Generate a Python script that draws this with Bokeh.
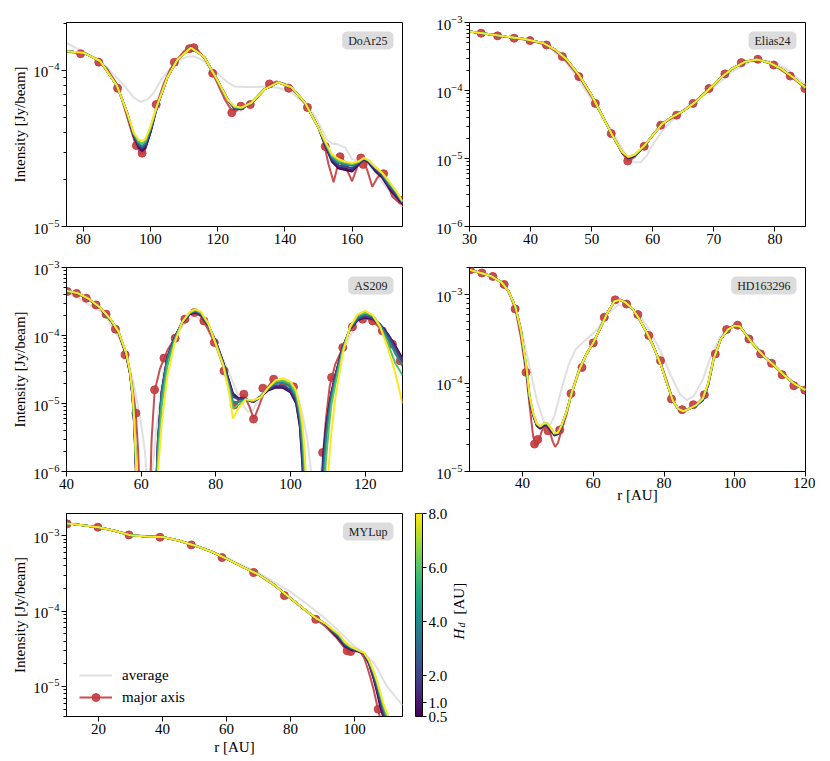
import numpy as np
from bokeh.plotting import figure
from bokeh.models import (Range1d, FixedTicker, LogTickFormatter, PrintfTickFormatter,
                          Label, Legend, LegendItem, LinearColorMapper)
from bokeh.layouts import column, row
from bokeh.palettes import Viridis256
from bokeh.embed import file_html
from bokeh.resources import INLINE
from bokeh.core.properties import value

# ---------------- data (intensities in micro-Jy/beam) ----------------
UJY = 1e-6
H_VALUES = [0.5, 1.0, 2.0, 4.0, 6.0, 8.0]
H_TICKS = [0.5, 1.0, 2.0, 4.0, 6.0, 8.0]

# DoAr25
DOAR25_AVG_R = [75,80,85,90,93,95,97,99,101,103,105,107,109,111,113,115,117,119,121,123,125,128,131,134,138,142,146,149,151,152.5,154,156,158,160,162,163.5,165,167,170,173,175]
DOAR25_AVG_I = [150,132,116,90,76,67,63,65,72,86,98,108,117,123,123,118,110,100,91,84,79,78.5,78.5,79,77.5,72,61,51,42,36,34,33.5,32,27,26.5,27,25,22,18,15,13.3]
DOAR25_LINE_R = [75,78,81,84,87,90,92,94,95.5,97,98,99,100.5,102,104,106,108,110,112,114,116,118,120,122,124,125.5,127,129,131,133,135,137.5,140,142,144,146,148,150,151.5,153,154.5,156,157,158.5,160,161.5,163,164.5,166,167.5,169,170.5,172,173.5,175]
DOAR25_LINE_I = [132,130,128,117,103,82,60,43,34,29.5,29.5,34,44,62,83,103,118,133,142,136,120,101,82,66,56,55,58,60,64,72,80,85,82,76,69,61,52,43,35,25,19.2,26,28,23,19.5,24,27.5,23,18,20.5,22,19,15.5,14.5,14.2]
DOAR25_PTS_R = [79.2,84.6,90.2,95.8,97.5,101.7,107.1,111.6,112.9,118.5,124.2,126.9,129.7,135.4,141.1,146.7,152.0,156.4,157.8,162.6,163.3,169.4,174.8]
DOAR25_PTS_I = [128,113,77,33,29.5,60.5,113,138,140,96,53.6,59,60.5,82,77,58,32.6,28,24.6,27.5,25,21.8,14.7]
DOAR25_MOD_R = [75,80,85,90,93,95,96.5,97.5,98.5,100,102,105,108,112,116,120,123,125,127,130,134,138,142,146,150,152,154,156,158,160,162,163.5,165,167,169,171,173,175]
DOAR25_MOD_H05 = [133,130,115,80,54,38,32,30.5,32,40,59,90,117,140,122,86,65,57,57,62,76,84,78,62,43,33,26,23.5,23,22.5,25,27,25.5,22.5,20.5,17.5,15.5,14]
DOAR25_MOD_H1 = [133,130,115,80,54,38.3,32.5,31,32.5,40.5,59,90,117,140,122,86,65,57,57,62,76,84,78,62,43,33.3,26.5,24,23.5,23,25.2,27.1,25.7,23,20.8,17.8,15.8,14.1]
DOAR25_MOD_H2 = [133,130,115,80,54,38.6,33.2,31.8,33.2,41,59.3,90,117,140,122,86,65,57.3,57,62,76,84,78,62,43,33.6,27,24.6,24.2,23.6,25.5,27.2,26,23.3,21.2,18.2,16.2,14.2]
DOAR25_MOD_H4 = [133,130,115,80,54,39,34,32.8,34.2,42,59.5,90,117,140,122,86,65,57.8,57.3,62,76,84,78,62,43,34,27.8,25.5,25,24.5,25.8,27.3,26.2,23.6,21.6,18.7,16.6,14.3]
DOAR25_MOD_H6 = [133,130,115,80,54,39.5,35,34,35.2,43,59.8,90,117,140,122,86,65,58.3,57.5,62,76,84,78,62,43,34.5,28.4,26.2,25.6,25.1,26,27.4,26.4,23.9,21.9,19.1,16.9,14.4]
DOAR25_MOD_H8 = [133,130,115,80,54,40,36,35.5,36.5,44,60,90,117,140,122,86,65,59,57.8,62,76,84,78,62,43,35,29,27,26,25.5,26.2,27.5,26.5,24,22,19.5,17,14.5]

# Elias24
ELIAS24_AVG_R = [30,35,40,43,46,49,52,54,55.5,57,58,59,60,61.5,63,65,67,70,73,76,78,80,82,85]
ELIAS24_AVG_I = [730,640,545,440,250,100,40,20,11.5,8.7,8.8,11,16,25,35,50,68,112,190,265,283,258,205,122]
ELIAS24_LINE_R = [30,32,34.6,37.3,40,42.6,45.2,47.9,50.6,53.2,55,56,57,58.6,61.3,63.9,66.6,69.2,71.8,74.5,77.2,79.8,82.5,85]
ELIAS24_LINE_I = [735,695,636,590,545,470,318,162,66,24,12,9.2,10.5,15.2,31,43.5,64,106,174,255,287,238,163,108]
ELIAS24_PTS_R = [31.9,34.6,37.3,39.9,42.6,45.2,47.9,50.6,53.2,55.9,58.6,61.3,63.9,66.6,69.2,71.8,74.5,77.2,79.8,82.5,84.9]
ELIAS24_PTS_I = [697,636,587,542,468,315,160,64.6,23.3,9.2,15.1,30.9,43.4,64.6,107,175,257,288,237,163,107]
ELIAS24_MOD_R = [30,33,36,39,42,44,46,48,50,52,53.5,55,56,57,58.5,60,61.5,63,65,67,69,71,73,75,77,79,81,83,85]
ELIAS24_MOD_H05 = [736,680,620,570,500,400,280,165,85,38,21,12.1,10.1,10.9,14.7,22,32,40,50,68,100,150,210,262,285,258,210,155,110]
ELIAS24_MOD_H1 = [736,680,620,570,500,400,280,165,85,38,21,12.2,10.2,11.0,14.8,22,32,40,50,68,100,150,210,262,285,258,210,155,110]
ELIAS24_MOD_H2 = [736,680,620,570,500,400,280,165,85,38,21,12.3,10.3,11.1,14.8,22,32,40,50,68,100,150,210,262,285,258,210,155,110]
ELIAS24_MOD_H4 = [736,680,620,570,500,400,280,165,85,38,21,12.4,10.4,11.2,14.9,22,32,40,50,68,100,150,210,262,285,258,210,155,110]
ELIAS24_MOD_H6 = [736,680,620,570,500,400,280,165,85,38,21,12.5,10.5,11.3,15.0,22,32,40,50,68,100,150,210,262,285,258,210,155,110]
ELIAS24_MOD_H8 = [736,680,620,570,500,400,280,165,85,38,21,12.5,10.6,11.4,15.0,22,32,40,50,68,100,150,210,262,285,258,210,155,110]

# AS209
AS209_AVG_R = [40,50,55,58,60,61,61.8,62.3,63,64,66,70,74,78,82,85,87,88.5,90,92,96,100,103,104.5,105.5,106.5,107.5,108.5,110,114,118,120,124,128,130]
AS209_AVG_I = [450,210,75,20,5,2,0.5,0.3,1.0,4,30,120,200,140,45,18,10,7.5,8,13,19,18,8,3,1,0.3,0.5,1.5,8,60,160,185,140,70,45]
AS209_LINE_R = [40,43,46,49,52,54,56,57.5,58.5,59.2,59.6,60,62,62.4,62.8,63.6,65,67,69,71,73,74.5,76,78,80,82,83.5,84.7,86,87.5,89,90.2,91.5,93,95,97,99,101,102.3,103.2,103.6,104,108,108.3,108.8,109.5,110.5,112,114,116,118,120,122,124,126,128,130]
AS209_LINE_I = [450,410,340,250,160,105,50,20,8,2.0,0.5,0.01,0.01,0.5,3,15,32,60,92,150,205,218,190,120,72,35,16,9,11,13.5,9,5.9,9,15,21,21.5,20,17.5,10,3,1,0.01,0.01,0.5,2.0,6,18,38,66,125,168,180,165,128,90,60,38]
AS209_PTS_R = [40.2,42.7,45.3,47.9,50.6,53.1,55.7,58.6,63.6,66.1,69.1,71.7,74.3,76.8,79.6,82.2,84.9,87.5,90.1,92.6,95.5,98.1,100.8,108.6,111.0,114.0,116.6,119.3,122.0,124.6,127.3,129.4]
AS209_PTS_I = [444,415,354,282,206,124,52,7.2,15.9,46.5,91,174,218,164,79,30.2,9.5,13.7,5.9,16.8,22.8,19.2,17.6,1.9,24.1,66.6,134,174,164,117,74.6,42.4]
AS209_MOD_R = [40,43,46,49,52,54,56,57,57.7,58.2,58.6,59,63.5,64,64.5,65.5,67,69,71,73,74.5,76,78,80,82,83.5,84.6,86,88,90,92,94,96,98,100,101.5,102.5,103.2,103.8,104.5,108,108.8,109.5,110.3,111,112,114,116,118,120,122,124,126,128,130]
AS209_MOD_H05 = [455,415,340,255,165,110,52,28,12,4,1.0,0.01,0.05,0.6,3,15,48,95,155,205,218,200,140,82,40,22,14,12,11.7,10.5,12.5,15.5,17.2,17,14.5,10,4.5,1.2,0.2,0.01,0.2,1.8,4.5,9,15,26,68,125,168,184,175,145,107,72,46]
AS209_MOD_H1 = [455,416,341,256,166,110,52.5,28.5,12.3,4.2,1.05,0.02,0.03,0.55,2.9,14.8,47.5,94,156,207,221,202,140,81,40,21.5,13.5,11.8,11.6,10.5,12.6,15.8,17.6,17.5,15,10.5,5,1.4,0.25,0.01,0.15,1.6,4.2,8.8,14.8,25.8,67.5,126,170,187,177,145,106,70,44]
AS209_MOD_H2 = [455,417,342,256,166,111,53,29,12.8,4.4,1.1,0.05,0.02,0.5,2.8,14.5,47,93,157,210,225,205,141,80,39,20.5,12.5,11.5,11.5,10.6,12.8,16.2,18.5,18.3,16,11.3,5.6,1.7,0.35,0.01,0.1,1.3,3.8,8.3,14.3,25.3,66,127,174,193,181,145,102,66,41]
AS209_MOD_H4 = [455,418,343,257,167,111,54,29.5,13.2,4.6,1.25,0.1,0.01,0.4,2.4,13.5,45,91,158,213,232,212,144,78,37.5,18.5,10.5,10.5,11.5,10.8,12.9,16.6,20,20.3,17.5,12.5,6.5,2.5,0.7,0.05,0.05,0.7,2.8,6.8,12.5,22,63,130,185,206,190,142,92,55,36]
AS209_MOD_H6 = [455,419,344,257,167,112,54.5,29.8,13.6,4.8,1.35,0.2,0.01,0.25,1.7,9,35,85,158,217,238,218,147,76,36.5,17,8.5,9.5,11.5,11,12.5,17,21,21.8,19.5,13.8,7.8,3.6,1.2,0.15,0.02,0.3,1.5,4.5,10,19,61,135,198,220,198,135,78,40,26]
AS209_MOD_H8 = [455,420,345,258,168,112,55,30,14,5,1.5,0.3,0.01,0.1,1.0,5,25,78,158,220,244,225,150,74,36,15,6,8.5,11.5,11.2,12.2,17,22,23.3,21,15.5,9,5,2,0.3,0.01,0.05,0.3,1.3,4,12,55,135,205,231,200,135,67,29,10]

# HD163296
HD_AVG_R = [25,30,35,38,40,42,44,46,47.5,49,51,53,55,58,61,64,67,70,73,76,79,82,84.5,86.5,88.5,91,93,96,99,101,104,108,112,116,120]
HD_AVG_I = [1900,1680,1280,700,360,150,65,37,32,42,85,160,240,310,400,600,760,730,590,390,230,120,75,64,72,110,190,340,430,445,330,215,150,108,85]
HD_LINE_R = [25,28,31,34,36,38,39.5,41,42,43,43.7,44.5,45.5,46.5,47.5,48.5,49.2,50,51,52.5,54,56,58,60,62,64,66,67.5,69,71,73,75,77,79,81,82.5,84,85.5,87,89,91,92.5,94,96,98,100,101.5,103,105,108,111,114,117,120]
HD_LINE_I = [1920,1780,1630,1380,1100,680,330,132,55,25,19.5,22,29,33,30,22,19,21,29,45,80,140,210,285,420,620,840,880,820,700,530,380,260,170,100,65,50,48,51,57,68,100,190,310,410,450,440,360,280,205,160,122,97,82]
HD_PTS_R = [25.2,28.5,31.6,34.8,37.9,41.0,43.4,44.3,47.2,50.5,53.7,56.8,60.0,63.1,66.2,69.4,72.6,75.7,79.0,82.1,85.1,88.3,91.4,94.5,97.7,100.8,104.0,107.3,110.4,113.4,116.7,119.8]
HD_PTS_I = [1900,1750,1600,1300,688,132,20.4,23,28.8,29.5,76,150,284,553,870,780,594,344,179,66,50,56.9,73.8,213,402,450,315,213,167,124,93.3,83]
HD_MOD_R = [25,28,31,34,36,38,39.5,41,42,43,44,45,46,47,48,49,50,51,52.5,54,56,58,60,62,64,66,67.5,69,71,73,75,77,79,81,82.5,84,85.5,87,89,91,92.5,94,96,98,100,101.5,103,105,108,111,114,117,120]
HD_MOD_H05 = [1900,1760,1620,1380,1100,720,400,150,66,43,33,30.5,33,33,29,25.5,26.5,32,48,80,140,210,285,420,620,840,870,820,700,530,380,260,165,95,63,51,48,51,55,64,95,185,310,400,445,435,360,280,205,160,122,97,83]
HD_MOD_H1 = [1900,1760,1620,1380,1100,720,400,152,67,43.5,33.5,31,33.5,33.5,29.5,26,26.8,32.2,48,80,140,210,285,420,620,840,870,820,700,530,380,260,165,95,63,51,48,51,55.3,64.5,96,185,310,400,445,435,360,280,205,160,122,97,83]
HD_MOD_H2 = [1900,1760,1620,1380,1100,720,400,155,68,44,34,31.5,34,34,30,26.3,27,32.5,48,80,140,210,285,420,620,840,870,820,700,530,380,260,165,95,63,51,48,51,55.5,65,97,185,310,400,445,435,360,280,205,160,122,97,83]
HD_MOD_H4 = [1900,1760,1620,1380,1100,720,400,158,70,45,34.5,32,34.5,34.5,30.5,26.7,27.2,32.8,48,80,140,210,285,420,620,840,870,820,700,530,380,260,165,95,63,51,48,51,55.8,66,98,185,310,400,445,435,360,280,205,160,122,97,83]
HD_MOD_H6 = [1900,1760,1620,1380,1100,720,400,162,71,45.5,35,32.3,35,35,31,27,27.5,33,48,80,140,210,285,420,620,840,870,820,700,530,380,260,165,95,63,51,48,51,56,66.5,99,185,310,400,445,435,360,280,205,160,122,97,83]
HD_MOD_H8 = [1900,1760,1620,1380,1100,720,400,165,72,46,35,32.5,35,35,31,27,27.5,33,48,80,140,210,285,420,620,840,870,820,700,530,380,260,165,95,63,51,48,51,56,67,100,185,310,400,445,435,360,280,205,160,122,97,83]

# MYLup
MY_AVG_R = [10,20,30,40,50,60,70,75,80,85,90,95,100,103,106,110,115]
MY_AVG_I = [1480,1300,1030,960,760,510,320,240,180,125,85,55,34,27,21,10.3,5.6]
MY_LINE_R = [10,15,20,25,30,35,40,45,50,55,60,65,70,75,80,85,88,91,94,96,97.5,99,100.5,102,103,104,105,106,107,108,108.5,109]
MY_LINE_I = [1450,1370,1290,1160,1010,970,950,860,740,620,495,385,305,220,148,100,78,62,46,36,30,29,29.5,28,24,18,13,9,5.8,3.8,2.5,1.0]
MY_PTS_R = [10.2,19.8,29.5,39.2,49.0,58.6,68.5,78.1,87.9,97.7,98.8,107.4]
MY_PTS_I = [1430,1290,1020,950,752,510,323,160,77.5,29.7,29,5.0]
MY_MOD_R = [10,15,20,25,30,35,40,45,50,55,60,65,70,75,80,85,88,91,93,95,97,99,101,103,104.5,106,107,108,109,110,111,112]
MY_MOD_H05 = [1450,1370,1290,1160,1010,975,955,860,740,620,495,385,305,220,148,100,80,67,53,43,34,30.5,29.5,27,20,12.5,8.5,5.5,3.9,2.3,1.2,0.8]
MY_MOD_H1 = [1450,1370,1290,1160,1010,975,955,860,740,620,495,385,305,220,148,100,80,67,53.5,44,34.5,31,29.7,27.2,20.5,13,9,6,4.1,2.6,1.5,0.9]
MY_MOD_H2 = [1450,1370,1290,1160,1010,975,955,860,740,620,495,385,305,220,148,100,80,67.3,54.5,45.5,35.5,31.7,29.9,27.4,21,13.8,9.8,6.6,4.5,3.1,2,1.2]
MY_MOD_H4 = [1450,1370,1290,1160,1010,975,955,860,740,620,495,385,305,220,148,100,80,67.6,56,47.5,37,32.5,30.2,27.7,21.7,14.9,10.9,7.5,5.2,3.8,2.8,1.7]
MY_MOD_H6 = [1450,1370,1290,1160,1010,975,955,860,740,620,495,385,305,220,148,100,80,67.8,57,49,38,33,30.4,27.9,22.2,15.5,11.5,8,5.6,4.2,3.2,2]
MY_MOD_H8 = [1450,1370,1290,1160,1010,975,955,860,740,620,495,385,305,220,148,100,80,68,58,50,39,33.5,30.5,28,22.5,16,12,8.5,6,4.6,3.7,2.3]

# ---------------- styling ----------------
FONT = "Liberation Serif"
RED = "#c23b3e"
GREY = "#e0e0e0"
BOXFILL = "#dcdcdc"
FW = 336


def hcolor(h):
    return Viridis256[int(round((h - 0.5) / 7.5 * 255))]


def ujy(vals):
    return [v * UJY for v in vals]


def log_ticks(lo, hi):
    majors, minors = [], []
    for e in range(-8, 0):
        for m in range(1, 10):
            v = m * 10.0 ** e
            if lo * 0.999 <= v <= hi * 1.001:
                (majors if m == 1 else minors).append(v)
    return majors, minors


def style_axis(ax):
    ax.axis_line_color = "black"
    ax.major_tick_line_color = "black"
    ax.minor_tick_line_color = "black"
    ax.major_tick_out = 5
    ax.major_tick_in = 0
    ax.minor_tick_out = 3
    ax.minor_tick_in = 0
    ax.major_label_text_font = FONT
    ax.major_label_text_font_size = "15px"
    ax.major_label_text_color = "black"
    ax.major_label_standoff = 2
    ax.axis_label_text_font = FONT
    ax.axis_label_text_font_size = "15px"
    ax.axis_label_text_font_style = "normal"
    ax.axis_label_text_color = "black"
    ax.axis_label_standoff = 2


def panel(name, xr, yr, xticks, w, h, bl, br, bt, bb, ylabel, xlabel,
          avg, line, pts, mod_r, mods, legend=False, compact_x=False):
    fh = h - bt - bb
    p = figure(width=w, height=h, x_range=Range1d(*xr), y_range=Range1d(*yr),
               y_axis_type="log", output_backend="svg", toolbar_location=None,
               title=None, min_border_left=bl, min_border_right=br, min_border_top=bt,
               min_border_bottom=bb)
    p.xgrid.visible = False
    p.ygrid.visible = False
    p.outline_line_color = "black"
    p.outline_line_alpha = 1.0
    p.outline_line_width = 1
    style_axis(p.xaxis[0])
    style_axis(p.yaxis[0])
    if compact_x:
        p.xaxis.major_label_standoff = 1
        p.xaxis.axis_label_standoff = -4
    p.xaxis.ticker = FixedTicker(ticks=xticks)
    p.xaxis.minor_tick_line_color = None
    majors, minors = log_ticks(*yr)
    p.yaxis.ticker = FixedTicker(ticks=majors, minor_ticks=minors)
    p.yaxis.formatter = LogTickFormatter()
    p.yaxis.axis_label = ylabel
    p.xaxis.axis_label = xlabel

    g = p.line(avg[0], ujy(avg[1]), line_color=GREY, line_width=2)
    rl = p.line(line[0], ujy(line[1]), line_color=RED, line_width=2, line_alpha=0.9)
    rp = p.scatter(pts[0], ujy(pts[1]), marker="circle", size=8, fill_color=RED,
                   line_color=RED, fill_alpha=0.9, line_alpha=0.9)
    for hv, m in zip(H_VALUES, mods):
        p.line(mod_r, ujy(m), line_color=hcolor(hv), line_width=2)

    p.add_layout(Label(x=FW - 9, y=fh - 9, x_units="screen", y_units="screen",
                       text=name, text_align="right", text_baseline="top",
                       text_font=FONT, text_font_size="12px", text_color="#222222",
                       background_fill_color=BOXFILL, background_fill_alpha=1.0,
                       padding=dict(left=6, right=6, top=2, bottom=2), border_radius=5))
    if legend:
        lg = Legend(items=[LegendItem(label="average", renderers=[g]),
                           LegendItem(label="major axis", renderers=[rl, rp])],
                    location=(9, 5))
        lg.label_text_font = FONT
        lg.label_text_font_size = "15px"
        lg.label_text_color = "black"
        lg.glyph_width = 33
        lg.glyph_height = 20
        lg.label_height = 20
        lg.label_standoff = 10
        lg.spacing = 2
        lg.padding = 4
        lg.margin = 0
        lg.border_line_alpha = 0
        lg.background_fill_alpha = 0
        p.add_layout(lg)
    return p


YL = "Intensity [Jy/beam]"
XL = "r [AU]"

# row heights (page has no outer margin): 252 + 255 + 253 = 760
f1 = panel("DoAr25", (75, 175), (1e-5, 2.03e-4), [80, 100, 120, 140, 160],
           412, 252, 66, 10, 22, 26, YL, "",
           (DOAR25_AVG_R, DOAR25_AVG_I), (DOAR25_LINE_R, DOAR25_LINE_I),
           (DOAR25_PTS_R, DOAR25_PTS_I), DOAR25_MOD_R,
           [DOAR25_MOD_H05, DOAR25_MOD_H1, DOAR25_MOD_H2, DOAR25_MOD_H4, DOAR25_MOD_H6, DOAR25_MOD_H8])
f2 = panel("Elias24", (30, 85), (1e-6, 1e-3), [30, 40, 50, 60, 70, 80],
           403, 252, 57, 10, 22, 26, "", "",
           (ELIAS24_AVG_R, ELIAS24_AVG_I), (ELIAS24_LINE_R, ELIAS24_LINE_I),
           (ELIAS24_PTS_R, ELIAS24_PTS_I), ELIAS24_MOD_R,
           [ELIAS24_MOD_H05, ELIAS24_MOD_H1, ELIAS24_MOD_H2, ELIAS24_MOD_H4, ELIAS24_MOD_H6, ELIAS24_MOD_H8])
f3 = panel("AS209", (40, 130), (1e-6, 1e-3), [40, 60, 80, 100, 120],
           412, 255, 66, 10, 15, 36, YL, "",
           (AS209_AVG_R, AS209_AVG_I), (AS209_LINE_R, AS209_LINE_I),
           (AS209_PTS_R, AS209_PTS_I), AS209_MOD_R,
           [AS209_MOD_H05, AS209_MOD_H1, AS209_MOD_H2, AS209_MOD_H4, AS209_MOD_H6, AS209_MOD_H8])
f4 = panel("HD163296", (25, 120), (1e-5, 2.02e-3), [40, 60, 80, 100, 120],
           403, 255, 57, 10, 15, 36, "", XL,
           (HD_AVG_R, HD_AVG_I), (HD_LINE_R, HD_LINE_I),
           (HD_PTS_R, HD_PTS_I), HD_MOD_R,
           [HD_MOD_H05, HD_MOD_H1, HD_MOD_H2, HD_MOD_H4, HD_MOD_H6, HD_MOD_H8],
           compact_x=True)
f5 = panel("MYLup", (10, 115), (4e-6, 1.96e-3), [20, 40, 60, 80, 100],
           415, 253, 66, 13, 6, 44, YL, XL,
           (MY_AVG_R, MY_AVG_I), (MY_LINE_R, MY_LINE_I),
           (MY_PTS_R, MY_PTS_I), MY_MOD_R,
           [MY_MOD_H05, MY_MOD_H1, MY_MOD_H2, MY_MOD_H4, MY_MOD_H6, MY_MOD_H8],
           legend=True)

# colour bar as its own narrow figure
cb = figure(width=35, height=253, x_range=Range1d(0, 1), y_range=Range1d(H_TICKS[0], H_TICKS[-1]),
            x_axis_location=None, y_axis_location="right", output_backend="svg",
            toolbar_location=None, title=None, min_border_left=0, min_border_right=27,
            min_border_top=6, min_border_bottom=44)
cb.xgrid.visible = False
cb.ygrid.visible = False
cb.outline_line_color = "black"
cb.outline_line_alpha = 1.0
grad = np.linspace(H_TICKS[0], H_TICKS[-1], 256).reshape(256, 1)
cb.image(image=[grad], x=0, y=H_TICKS[0], dw=1, dh=H_TICKS[-1] - H_TICKS[0],
         color_mapper=LinearColorMapper(palette=Viridis256, low=H_TICKS[0], high=H_TICKS[-1]))
style_axis(cb.yaxis[0])
cb.yaxis.ticker = FixedTicker(ticks=H_TICKS)
cb.yaxis.formatter = PrintfTickFormatter(format="%.1f")
cb.yaxis.minor_tick_line_color = None
cb.yaxis.major_tick_out = 4
cb.yaxis.major_label_standoff = 2

# narrow strip holding the colour-bar title (frame spans the same rows as the bar)
side = figure(width=30, height=253, x_range=Range1d(0, 30), y_range=Range1d(0, 203),
              x_axis_location=None, y_axis_location=None, output_backend="svg",
              toolbar_location=None, title=None, min_border_left=0, min_border_right=0,
              min_border_top=6, min_border_bottom=44)
side.xgrid.visible = False
side.ygrid.visible = False
side.outline_line_color = None
side.text(x=[8], y=[77], text=["H"], angle=np.pi / 2, text_align="left",
          text_baseline="middle", text_font=value(FONT), text_font_size="15px",
          text_font_style="italic", text_color="black")
side.text(x=[11], y=[89], text=["d"], angle=np.pi / 2, text_align="left",
          text_baseline="middle", text_font=value(FONT), text_font_size="10px",
          text_font_style="italic", text_color="black")
side.text(x=[8], y=[102], text=["[AU]"], angle=np.pi / 2, text_align="left",
          text_baseline="middle", text_font=value(FONT), text_font_size="15px",
          text_color="black")

layout = column(row(f1, f2), row(f3, f4), row(f5, cb, side))
open("out.html", "w").write(file_html(layout, INLINE))
